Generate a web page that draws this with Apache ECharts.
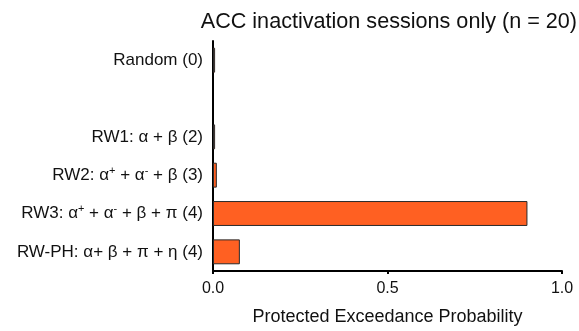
<!DOCTYPE html>
<html>
<head>
<meta charset="utf-8">
<script src="https://cdn.jsdelivr.net/npm/echarts@6/dist/echarts.min.js"></script>
<style>html,body{margin:0;padding:0;background:#fff}#c{width:579px;height:331px}</style>
</head>
<body>
<div id="c"></div>
<script>
var categories = [
  'Random (0)',
  '',
  'RW1: α + β (2)',
  'RW2: α{sup|+} + α{sup|-} + β (3)',
  'RW3: α{sup|+} + α{sup|-} + β + π (4)',
  'RW-PH: α+ β + π + η (4)'
];
var values = [0.006, null, 0.006, 0.011, 0.901, 0.077];
var xTicks = [0, 0.5, 1.0];
var titleText = 'ACC inactivation sessions only (n = 20)';
var xName = 'Protected Exceedance Probability';

var FONT = '"Liberation Sans", Arial, sans-serif';
var chart = echarts.init(document.getElementById('c'), null, {renderer: 'canvas'});
chart.setOption({
  animation: false,
  backgroundColor: '#fff',
  title: {
    text: titleText,
    right: 2, top: 11, padding: 0,
    textStyle: {fontFamily: FONT, fontSize: 21.6, fontWeight: 'normal', color: '#111'}
  },
  grid: {left: 213, right: 17, top: 41, bottom: 58, containLabel: false},
  xAxis: {
    type: 'value', min: xTicks[0], max: xTicks[xTicks.length - 1], interval: 0.5,
    name: xName, nameLocation: 'middle', nameGap: 37,
    nameTextStyle: {fontFamily: FONT, fontSize: 18, color: '#111'},
    axisLine: {show: true, lineStyle: {color: '#000', width: 2}},
    axisTick: {show: true, length: 3, lineStyle: {color: '#000', width: 2}},
    axisLabel: {margin: 10, fontFamily: FONT, fontSize: 16, color: '#111',
      formatter: function (v) { return v.toFixed(1); }},
    splitLine: {show: false}
  },
  yAxis: {
    type: 'category', data: categories, inverse: true,
    axisLine: {show: true, lineStyle: {color: '#000', width: 2}},
    axisTick: {show: false},
    axisLabel: {
      margin: 10, fontFamily: FONT, fontSize: 17, color: '#111', lineHeight: 20,
      rich: {
        sup: {fontFamily: FONT, fontSize: 11, color: '#111', verticalAlign: 'top', lineHeight: 11, padding: [0, 0, 8, 0]}
      }
    },
    splitLine: {show: false}
  },
  series: [{
    type: 'bar', data: values, barCategoryGap: '35%',
    itemStyle: {color: '#FF6022', borderColor: '#2a2a2a', borderWidth: 1}
  }]
});
</script>
</body>
</html>
